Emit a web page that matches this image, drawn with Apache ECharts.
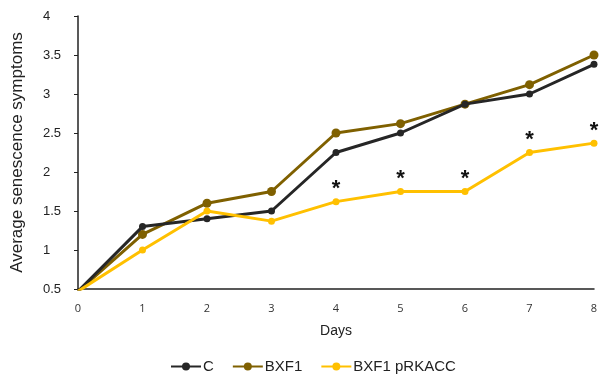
<!DOCTYPE html>
<html>
<head>
<meta charset="utf-8">
<script src="https://cdn.jsdelivr.net/npm/echarts@6/dist/echarts.min.js"></script>
<style>
	html, body { margin: 0; padding: 0; background: #fff; }
	#chart { width: 599px; height: 379px; }
</style>
</head>
<body>
<div id="chart"></div>
<script>
// data
const days = ['0', '1', '2', '3', '4', '5', '6', '7', '8']
const seriesNames = ['C', 'BXF1', 'BXF1 pRKACC']
const valuesC = [0.47, 1.3, 1.4, 1.5, 2.25, 2.5, 2.87, 3.0, 3.38]
const valuesBXF1 = [0.47, 1.2, 1.6, 1.75, 2.5, 2.62, 2.87, 3.12, 3.5]
const valuesPRKACC = [0.47, 1.0, 1.5, 1.37, 1.62, 1.75, 1.75, 2.25, 2.37]
const starDays = [4, 5, 6, 7, 8]

const colors = ['#262626', '#7f6000', '#ffc000']

const chart = echarts.init(document.getElementById('chart'))

// significance marks sit on the pRKACC points
const prkaccData = valuesPRKACC.map((v, i) => {
	if (starDays.includes(i)) {
		return {
			value: v,
			label: {
				show: true,
				formatter: '*',
				position: 'top',
				distance: -2,
				color: '#111',
				fontSize: 22,
				fontWeight: 'bold',
				fontFamily: 'Liberation Sans'
			}
		}
	}
	return v
})

const option = {
	animation: false,
	color: colors,
	textStyle: { fontFamily: 'Liberation Sans' },
	grid: {
		left: 78,
		right: 5,
		top: 16,
		bottom: 90,
		outerBoundsMode: 'none',
		containLabel: false
	},
	legend: {
		data: seriesNames,
		bottom: 0,
		left: 165,
		itemWidth: 30,
		itemHeight: 10,
		itemGap: 18,
		textStyle: { color: '#222', fontSize: 15, fontFamily: 'Liberation Sans', padding: [0, 0, 0, -3] }
	},
	xAxis: {
		type: 'category',
		data: days,
		boundaryGap: false,
		name: 'Days',
		nameLocation: 'middle',
		nameGap: 35,
		nameTextStyle: { color: '#222', fontSize: 14, fontFamily: 'Liberation Sans' },
		axisLine: { lineStyle: { color: '#222', width: 1.5 } },
		axisTick: { show: false },
		axisLabel: { color: '#333', fontSize: 11, margin: 14, fontFamily: 'Open Sans' },
		splitLine: { show: false }
	},
	yAxis: {
		type: 'value',
		min: 0.5,
		max: 4,
		interval: 0.5,
		name: 'Average senescence symptoms',
		nameLocation: 'middle',
		nameGap: 52,
		nameRotate: 90,
		nameTextStyle: { color: '#222', fontSize: 17, fontFamily: 'Liberation Sans' },
		axisLine: { show: true, lineStyle: { color: '#222', width: 1.5 } },
		axisTick: { show: true, inside: false, length: 4, lineStyle: { color: '#222' } },
		axisLabel: { color: '#222', fontSize: 13, align: 'left', margin: 35 },
		splitLine: { show: false }
	},
	series: [
		{
			name: seriesNames[0],
			type: 'line',
			data: valuesC,
			symbol: 'circle',
			symbolSize: 7,
			lineStyle: { width: 3 },
			z: 3
		},
		{
			name: seriesNames[1],
			type: 'line',
			data: valuesBXF1,
			symbol: 'circle',
			symbolSize: 9,
			lineStyle: { width: 3 },
			z: 2
		},
		{
			name: seriesNames[2],
			type: 'line',
			data: prkaccData,
			symbol: 'circle',
			symbolSize: 7,
			lineStyle: { width: 3 },
			z: 4
		}
	]
}

chart.setOption(option)
</script>
</body>
</html>
